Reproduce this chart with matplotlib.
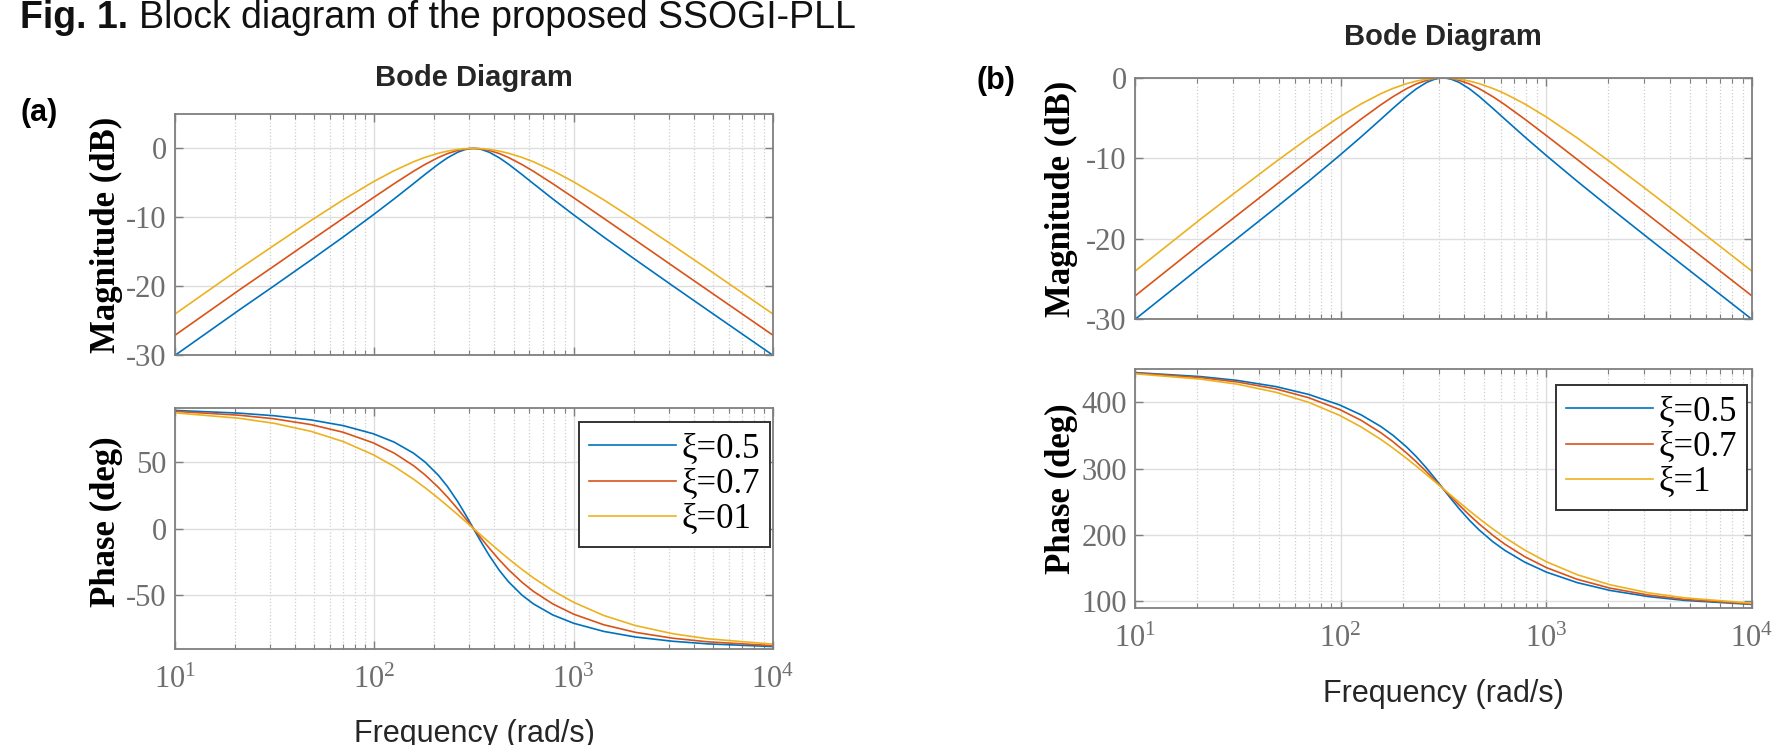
"""
Bode diagrams of the SSOGI band-pass filter for three damping factors.
(a) original phase, (b) phase with the extra all-pass stage.
"""
import matplotlib
matplotlib.use('Agg')
import matplotlib.pyplot as plt
from matplotlib.ticker import NullFormatter

plt.rcParams['font.family'] = ['Liberation Serif', 'DejaVu Serif']
plt.rcParams['mathtext.fontset'] = 'custom'
plt.rcParams['mathtext.rm'] = 'Liberation Serif'
plt.rcParams['axes.unicode_minus'] = False

# ---- data (rad/s, dB, deg) ----
freq = [10, 20.9, 31.4, 48.3, 69.8, 98.7, 125.7, 157.1, 179.5, 209.4,
        232.7, 261.8, 285.6, 299.2, 314.2, 329.9, 345.6, 377.0, 424.1, 471.2,
        549.8, 628.3, 785.4, 1000, 1413.7, 2042.0, 3141.6, 4712.4, 10000]

mag_05 = [-30.05, -23.50, -19.96, -16.16, -12.86, -9.65, -7.33, -5.12, -3.78, -2.29,
          -1.37, -0.55, -0.16, -0.04, 0.0, -0.04, -0.16, -0.55, -1.37, -2.29,
          -3.78, -5.12, -7.33, -9.65, -12.86, -16.16, -19.96, -23.50, -30.05]
mag_07 = [-27.13, -20.60, -17.08, -13.33, -10.14, -7.16, -5.12, -3.32, -2.33, -1.32,
          -0.75, -0.29, -0.08, -0.02, 0.0, -0.02, -0.08, -0.29, -0.75, -1.32,
          -2.33, -3.32, -5.12, -7.16, -10.14, -13.33, -17.08, -20.60, -27.13]
mag_10 = [-24.05, -17.54, -14.07, -10.44, -7.46, -4.85, -3.23, -1.94, -1.30, -0.70,
          -0.39, -0.14, -0.04, -0.01, 0.0, -0.01, -0.04, -0.14, -0.39, -0.70,
          -1.30, -1.94, -3.23, -4.85, -7.46, -10.44, -14.07, -17.54, -24.05]

phase_a_05 = [88.20, 86.17, 84.23, 81.05, 76.84, 70.78, 64.54, 56.31, 49.69, 39.81,
              31.36, 20.14, 10.81, 5.58, 0.0, -5.58, -10.81, -20.14, -31.36, -39.81,
              -49.69, -56.31, -64.54, -70.78, -76.84, -81.05, -84.23, -86.17, -88.20]
phase_a_07 = [87.48, 84.64, 81.95, 77.56, 71.88, 63.99, 56.31, 46.97, 40.09, 30.76,
              23.52, 14.68, 7.77, 3.99, 0.0, -3.99, -7.77, -14.68, -23.52, -30.76,
              -40.09, -46.97, -56.31, -63.99, -71.88, -77.56, -81.95, -84.64, -87.48]
phase_a_10 = [86.40, 82.37, 78.58, 72.51, 64.94, 55.12, 46.40, 36.87, 30.51, 22.62,
              16.94, 10.39, 5.45, 2.79, 0.0, -2.79, -5.45, -10.39, -16.94, -22.62,
              -30.51, -36.87, -46.40, -55.12, -64.94, -72.51, -78.58, -82.37, -86.40]

phase_b_05 = [444.60, 438.54, 432.81, 423.56, 411.78, 395.90, 380.94, 363.18, 350.20, 332.43,
              318.30, 300.53, 286.26, 278.37, 270.0, 261.63, 253.74, 239.47, 221.70, 207.57,
              189.80, 176.82, 159.06, 144.10, 128.22, 116.44, 107.19, 101.46, 95.40]
phase_b_07 = [443.88, 437.01, 430.53, 420.07, 406.82, 389.11, 372.71, 353.84, 340.60, 323.38,
              310.46, 295.07, 283.22, 276.78, 270.0, 263.22, 256.78, 244.93, 229.54, 216.62,
              199.40, 186.16, 167.29, 150.89, 133.18, 119.93, 109.47, 102.99, 96.12]
phase_b_10 = [442.80, 434.74, 427.16, 415.02, 399.88, 380.24, 362.80, 343.74, 331.02, 315.24,
              303.88, 290.78, 280.90, 275.58, 270.0, 264.42, 259.10, 249.22, 236.12, 224.76,
              208.98, 196.26, 177.20, 159.76, 140.12, 124.98, 112.84, 105.26, 97.20]

labels_a = ['ξ=0.5', 'ξ=0.7', 'ξ=01']
labels_b = ['ξ=0.5', 'ξ=0.7', 'ξ=1']

COLORS = ['#0072BD', '#D95319', '#EDB120']
SPINE = '#7f7f7f'
TICKTXT = '#6e6e6e'
SANS = 'Liberation Sans'

W, H = 1775, 745
fig = plt.figure(figsize=(W / 100, H / 100), dpi=100, facecolor='white')


def box(l, r, t, b):
    return [l / W, 1 - b / H, (r - l) / W, (b - t) / H]


def style(ax, ylim, yticks, xlabels):
    ax.set_xscale('log')
    ax.set_xlim(10, 1e4)
    ax.set_ylim(*ylim)
    ax.set_yticks(yticks)
    ax.grid(True, which='major', color='#dedede', lw=1.0)
    ax.grid(True, which='minor', axis='x', color='#cfcfcf', ls=':', lw=0.9)
    ax.set_axisbelow(True)
    ax.tick_params(which='both', direction='in', top=True, right=True,
                   color=SPINE, labelcolor=TICKTXT, labelsize=22)
    ax.tick_params(which='major', length=6, width=1)
    ax.tick_params(which='minor', length=3.5, width=0.8)
    ax.tick_params(axis='x', pad=12)
    ax.tick_params(axis='y', pad=6)
    for s in ax.spines.values():
        s.set_color(SPINE)
        s.set_linewidth(1.3)
    if not xlabels:
        ax.xaxis.set_major_formatter(NullFormatter())
    ax.xaxis.set_minor_formatter(NullFormatter())


def draw(ax, series, labels=None):
    for ys, c, lab in zip(series, COLORS, labels or [None] * 3):
        ax.plot(freq, ys, color=c, lw=1.2, label=lab)


def add_legend(ax, anchor):
    leg = ax.legend(loc='upper right', bbox_to_anchor=anchor, frameon=True,
                    fancybox=False, edgecolor='#333333', framealpha=1,
                    fontsize=25, handlelength=2.5, labelspacing=0.07,
                    borderpad=0.3, handletextpad=0.15, borderaxespad=0)
    leg.get_frame().set_linewidth(1.4)


# ---- (a) ----
ax1 = fig.add_axes(box(175, 773, 114, 355))
draw(ax1, [mag_05, mag_07, mag_10])
style(ax1, (-30, 5), [-30, -20, -10, 0], False)
ax1.set_ylabel('Magnitude (dB)', fontsize=25, fontweight='bold')
ax1.yaxis.set_label_coords(-0.087, 0.5)

ax2 = fig.add_axes(box(175, 773, 408, 649))
draw(ax2, [phase_a_05, phase_a_07, phase_a_10], labels_a)
style(ax2, (-90, 90), [-50, 0, 50], True)
ax2.set_ylabel('Phase (deg)', fontsize=25, fontweight='bold')
ax2.yaxis.set_label_coords(-0.087, 0.53)
add_legend(ax2, (0.995, 0.942))

# ---- (b) ----
ax3 = fig.add_axes(box(1135, 1752, 78, 319))
draw(ax3, [mag_05, mag_07, mag_10])
style(ax3, (-30, 0), [-30, -20, -10, 0], False)
ax3.set_ylabel('Magnitude (dB)', fontsize=25, fontweight='bold')
ax3.yaxis.set_label_coords(-0.093, 0.5)

ax4 = fig.add_axes(box(1135, 1752, 369, 608))
draw(ax4, [phase_b_05, phase_b_07, phase_b_10], labels_b)
style(ax4, (90, 450), [100, 200, 300, 400], True)
ax4.set_ylabel('Phase (deg)', fontsize=25, fontweight='bold')
ax4.yaxis.set_label_coords(-0.093, 0.5)
add_legend(ax4, (0.992, 0.933))

# ---- figure texts ----
fig.text(20 / W, 1 - 28 / H, 'Fig. 1.', family=SANS, fontweight='bold',
         fontsize=27, va='baseline', color='#111111')
fig.text(139 / W, 1 - 28 / H, 'Block diagram of the proposed SSOGI-PLL',
         family=SANS, fontsize=27, va='baseline', color='#111111')

for cx, base in [(474, 86), (1443, 45)]:
    fig.text(cx / W, 1 - base / H, 'Bode Diagram', family=SANS, fontweight='bold',
             fontsize=21, ha='center', va='baseline', color='#262626')
for cx, base in [(474, 742), (1443, 702)]:
    fig.text(cx / W, 1 - base / H, 'Frequency (rad/s)', family=SANS,
             fontsize=22, ha='center', va='baseline', color='#262626')

fig.text(20 / W, 1 - 113 / H, '(a)', family=SANS, fontweight='bold',
         fontsize=22, va='center', color='black')
fig.text(976 / W, 1 - 81 / H, '(b)', family=SANS, fontweight='bold',
         fontsize=22, va='center', color='black')

fig.savefig('out.png', dpi=100, facecolor='white')
